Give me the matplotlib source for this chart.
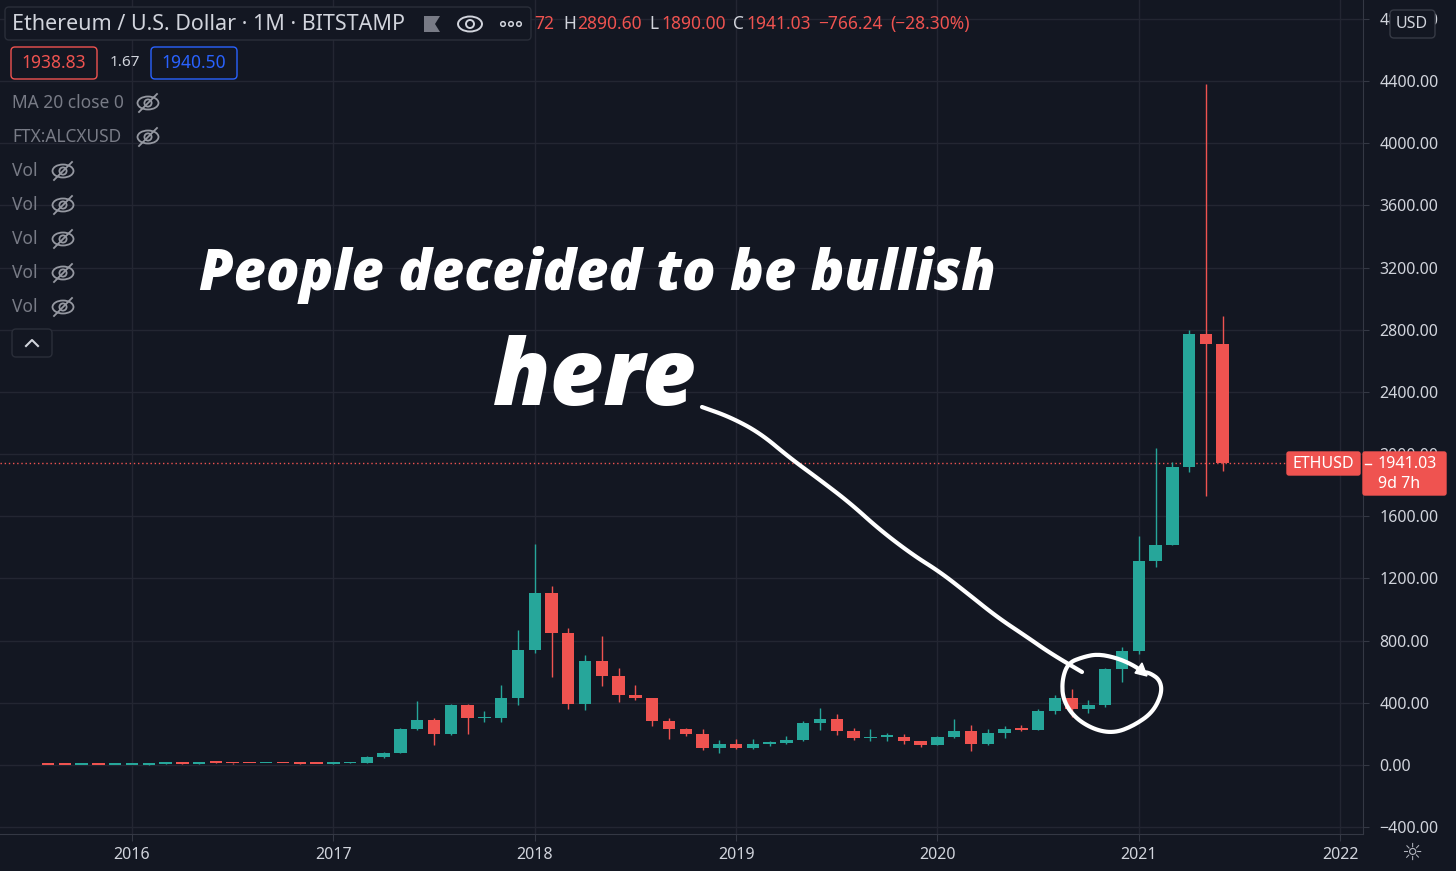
import matplotlib
matplotlib.use("Agg")
import matplotlib.pyplot as plt
from matplotlib.patches import FancyBboxPatch, Ellipse, Circle, Polygon
import numpy as np

# ETH/USD monthly candles, Aug 2015 .. Jun 2021
months = ["2015-08", "2015-09", "2015-10", "2015-11", "2015-12",
          "2016-01", "2016-02", "2016-03", "2016-04", "2016-05", "2016-06",
          "2016-07", "2016-08", "2016-09", "2016-10", "2016-11", "2016-12",
          "2017-01", "2017-02", "2017-03", "2017-04", "2017-05", "2017-06",
          "2017-07", "2017-08", "2017-09", "2017-10", "2017-11", "2017-12",
          "2018-01", "2018-02", "2018-03", "2018-04", "2018-05", "2018-06",
          "2018-07", "2018-08", "2018-09", "2018-10", "2018-11", "2018-12",
          "2019-01", "2019-02", "2019-03", "2019-04", "2019-05", "2019-06",
          "2019-07", "2019-08", "2019-09", "2019-10", "2019-11", "2019-12",
          "2020-01", "2020-02", "2020-03", "2020-04", "2020-05", "2020-06",
          "2020-07", "2020-08", "2020-09", "2020-10", "2020-11", "2020-12",
          "2021-01", "2021-02", "2021-03", "2021-04", "2021-05", "2021-06"]
opens = [2.77, 1.35, 0.74, 0.90, 0.87, 0.93, 2.2, 6.1, 11.4, 8.8, 13.9,
         12.4, 11.6, 11.4, 13.2, 10.7, 8.6, 8.0, 10.7, 15.7, 50, 80, 231,
         291, 201, 387, 300, 305, 434, 740, 1108, 847, 391, 669, 575,
         452, 431, 282, 233, 197, 111, 132, 107, 137, 141, 160, 269,
         293, 218, 171, 180, 183, 152, 130, 179, 218, 133, 207, 233,
         226, 346, 434, 361, 387, 618, 736, 1311, 1418, 1917, 2773, 2707.72]
highs = [2.80, 1.45, 1.25, 1.05, 0.95, 2.4, 6.5, 15.0, 11.9, 14.5, 21.5,
         14.9, 12.0, 14.1, 13.4, 11.3, 8.9, 11.1, 16.5, 55, 83, 235, 413,
         300, 390, 395, 349, 515, 868, 1420, 1151, 879, 708, 830, 627,
         515, 434, 304, 236, 229, 160, 165, 169, 154, 186, 285, 368,
         325, 240, 229, 203, 197, 154, 186, 293, 255, 229, 250, 255,
         357, 449, 490, 421, 625, 757, 1476, 2039, 1949, 2800, 4383, 2890.60]
lows = [0.55, 0.57, 0.37, 0.82, 0.80, 0.93, 2.0, 5.9, 6.9, 8.3, 11.0,
        9.4, 10.0, 11.3, 10.6, 8.4, 6.0, 7.9, 10.1, 15.3, 42, 74, 225,
        130, 190, 197, 274, 278, 387, 719, 563, 359, 355, 505, 402,
        415, 248, 165, 184, 96, 79, 100, 100, 122, 133, 157, 225,
        190, 160, 154, 154, 133, 115, 126, 175, 90, 128, 175, 218,
        225, 325, 310, 332, 370, 533, 714, 1275, 1414, 1883, 1729, 1890.00]
closes = [1.35, 0.74, 0.90, 0.87, 0.93, 2.2, 6.1, 11.4, 8.8, 13.9, 12.4,
          11.6, 11.4, 13.2, 10.7, 8.6, 8.0, 10.7, 15.7, 50, 80, 231, 291,
          201, 387, 300, 305, 434, 740, 1108, 847, 391, 669, 575, 452,
          431, 282, 233, 197, 111, 132, 107, 137, 141, 160, 269, 293,
          218, 171, 180, 183, 152, 130, 179, 218, 133, 207, 233, 226,
          346, 434, 361, 387, 618, 736, 1311, 1418, 1917, 2773, 2707.72, 1941.03]

year_labels = ["2016", "2017", "2018", "2019", "2020", "2021", "2022"]
price_ticks = [-400, 0, 400, 800, 1200, 1600, 2000, 2400, 2800, 3200, 3600, 4000, 4400, 4800]
last_price = 1941.03

W, H = 1456, 871
bg = "#131722"
up = "#26a69a"
down = "#ef5350"
grid_col = "#232632"
sep_col = "#343844"
txt = "#d1d4dc"
dim = "#787b86"

fig = plt.figure(figsize=(W / 100, H / 100), dpi=100, facecolor=bg)
ax = fig.add_axes([0, 37 / H, 1363 / W, 834 / H])
ax.set_facecolor(bg)

x = np.arange(len(months))
o = np.array(opens)
c = np.array(closes)
colors = [up if cc >= oo else down for oo, cc in zip(o, c)]
bottoms = np.minimum(o, c)
heights = np.maximum(np.abs(c - o), 10)

ax.vlines(x, lows, highs, colors=colors, lw=1.0, zorder=3)
ax.bar(x, heights, bottom=bottoms, width=0.74, color=colors, zorder=4, linewidth=0)
ax.axhline(last_price, color=down, lw=1.0, ls=(0, (1, 2)), zorder=2)

# month index of each january (first candle is Aug 2015); 2022 lies past the data
year_pos = [months.index(y + "-01") if (y + "-01") in months else months.index("2021-01") + 12 * (int(y) - 2021)
            for y in year_labels]
ax.set_xticks(year_pos)
ax.set_xticklabels(year_labels, fontsize=11.5, fontweight="semibold", family="Noto Sans")
ax.set_xlim(5 - 132 / 16.78, 5 + 1231 / 16.78)

ax.set_ylim(-444, 4921)
ax.yaxis.tick_right()
ax.set_yticks(price_ticks)
ax.set_yticklabels([f"{v:.2f}".replace("-", "\u2212") for v in price_ticks],
                   fontsize=11.5, family="Noto Sans")
ax.tick_params(axis="y", colors=sep_col, labelcolor=txt, length=4, pad=8)
ax.tick_params(axis="x", colors=sep_col, labelcolor=txt, length=5, pad=4)
ax.grid(color=grid_col, lw=1)
ax.set_axisbelow(True)
for s in ["top", "left"]:
    ax.spines[s].set_visible(False)
for s in ["right", "bottom"]:
    ax.spines[s].set_color(sep_col)

# overlay in pixel coordinates for the screenshot chrome and the drawing
ov = fig.add_axes([0, 0, 1, 1])
ov.set_xlim(0, W)
ov.set_ylim(H, 0)
ov.axis("off")
ov.patch.set_alpha(0)

renderer = fig.canvas.get_renderer()


def fit_text(xp, yp, s, width, **kw):
    t = ov.text(xp, yp, s, fontsize=20, **kw)
    w = t.get_window_extent(renderer).width
    t.set_fontsize(20 * width / w)
    return t


def rbox(x0, y0, x1, y1, ec, fc=bg, lw=1.0, r=4):
    ov.add_patch(FancyBboxPatch((x0, y0), x1 - x0, y1 - y0,
                                boxstyle=f"round,pad=0,rounding_size={r}",
                                ec=ec, fc=fc, lw=lw, zorder=5))


def eye_slash(cx, cy, col="#9598a1"):
    ov.add_patch(Ellipse((cx, cy), 21, 13, fill=False, ec=col, lw=1.3, zorder=6))
    ov.add_patch(Circle((cx, cy), 3.6, fill=False, ec=col, lw=1.3, zorder=6))
    ov.plot([cx - 9, cx + 9], [cy + 9, cy - 9], color=col, lw=1.3, zorder=6)


# title box + OHLC
rbox(5, 7, 531, 40, "#2a2e39")
fit_text(12, 24, "Ethereum / U.S. Dollar \u00b7 1M \u00b7 BITSTAMP", 393,
         color=txt, va="center", family="Noto Sans", zorder=7)
ov.add_patch(Polygon([(424, 16), (440, 16), (435, 24), (440, 32), (424, 32)], closed=True,
                     fc="#787b86", ec="none", zorder=6))
ov.add_patch(Ellipse((470, 24), 24, 15, fill=False, ec=txt, lw=1.4, zorder=6))
ov.add_patch(Circle((470, 24), 4, fill=False, ec=txt, lw=1.4, zorder=6))
for cx in (503, 511, 519):
    ov.add_patch(Circle((cx, 24), 2.3, fill=False, ec=txt, lw=1.1, zorder=6))
ohlc = [(534, "72", down), (563, "H", txt), (577, "2890.60", down), (649, "L", txt),
        (661, "1890.00", down), (733, "C", txt), (746, "1941.03", down),
        (818, "\u2212766.24", down), (890, "(\u221228.30%)", down)]
for xp, s, col in ohlc:
    ov.text(xp, 24, s, color=col, fontsize=12.5, va="center", family="Noto Sans", zorder=7)

rbox(11, 47, 97, 79, down)
ov.text(54, 63, "1938.83", color=down, fontsize=12.5, ha="center", va="center", family="Noto Sans", zorder=7)
ov.text(110, 63, "1.67", color=txt, fontsize=11, va="center", family="Noto Sans", zorder=7)
rbox(151, 47, 237, 79, "#2962ff")
ov.text(194, 63, "1940.50", color="#2962ff", fontsize=12.5, ha="center", va="center", family="Noto Sans", zorder=7)

ov.text(12, 103, "MA 20 close 0", color=dim, fontsize=12.5, va="center", family="Noto Sans", zorder=7)
eye_slash(148, 103)
ov.text(12, 137, "FTX:ALCXUSD", color=dim, fontsize=12.5, va="center", family="Noto Sans", zorder=7)
eye_slash(148, 137)
for yp in (171, 205, 239, 273, 307):
    ov.text(12, yp, "Vol", color=dim, fontsize=12.5, va="center", family="Noto Sans", zorder=7)
    eye_slash(63, yp)
rbox(12, 329, 52, 357, "#2a2e39")
ov.plot([26, 32, 38], [346, 340, 346], color=txt, lw=1.5, zorder=7)

# price-axis chrome
rbox(1390, 10, 1435, 38, "#363a45")
ov.text(1412, 24, "USD", color=txt, fontsize=11.5, ha="center", va="center", family="Noto Sans", zorder=7)
rbox(1287, 452, 1360, 475, down, fc=down, r=2)
ov.text(1323, 464, "ETHUSD", color="white", fontsize=11.5, ha="center", va="center", family="Noto Sans", zorder=7)
rbox(1363, 452, 1446, 495, down, fc=down, r=2)
ov.plot([1365, 1371], [464, 464], color="white", lw=1, zorder=7)
ov.text(1378, 464, "1941.03", color="white", fontsize=11.5, va="center", family="Noto Sans", zorder=7)
ov.text(1378, 484, "9d 7h", color="white", fontsize=11.5, va="center", family="Noto Sans", zorder=7)
ov.text(1412, 853, "\u263c", color="#b2b5be", fontsize=17, ha="center", va="center",
        family="DejaVu Sans", zorder=7)

# the drawing
fit_text(199, 290, "People deceided to be bullish", 796, color="white", family="Open Sans",
         fontweight="heavy", style="italic", va="baseline", zorder=8)
fit_text(493, 405, "here", 204, color="white", family="Open Sans",
         fontweight="heavy", style="italic", va="baseline", zorder=8)


def smooth(pts, n=3):
    pts = np.asarray(pts, float)
    for _ in range(n):
        a, b = pts[:-1], pts[1:]
        mid = np.empty((2 * len(a), 2))
        mid[0::2] = 0.75 * a + 0.25 * b
        mid[1::2] = 0.25 * a + 0.75 * b
        pts = np.vstack([pts[:1], mid, pts[-1:]])
    return pts


stroke = smooth([(702, 407), (730, 417), (760, 433), (790, 458), (820, 480), (850, 503),
                 (880, 530), (913, 555), (940, 572), (967, 593), (997, 617), (1027, 637),
                 (1050, 653), (1082, 672)])
ov.plot(stroke[:, 0], stroke[:, 1], color="white", lw=3, solid_capstyle="round",
        solid_joinstyle="round", zorder=8)
loop = smooth([(1143, 672), (1133, 665), (1117, 658), (1098, 654), (1083, 657), (1068, 663),
               (1062, 680), (1063, 700), (1075, 718), (1095, 730), (1115, 733), (1135, 725),
               (1153, 712), (1162, 693), (1160, 680), (1150, 673), (1143, 672)])
ov.plot(loop[:, 0], loop[:, 1], color="white", lw=3, solid_capstyle="round",
        solid_joinstyle="round", zorder=8)
ov.add_patch(Polygon([(1147, 676), (1135, 673), (1142, 663)], closed=True, fc="white", ec="white", zorder=8))

fig.savefig("out.png", dpi=100, facecolor=bg)
